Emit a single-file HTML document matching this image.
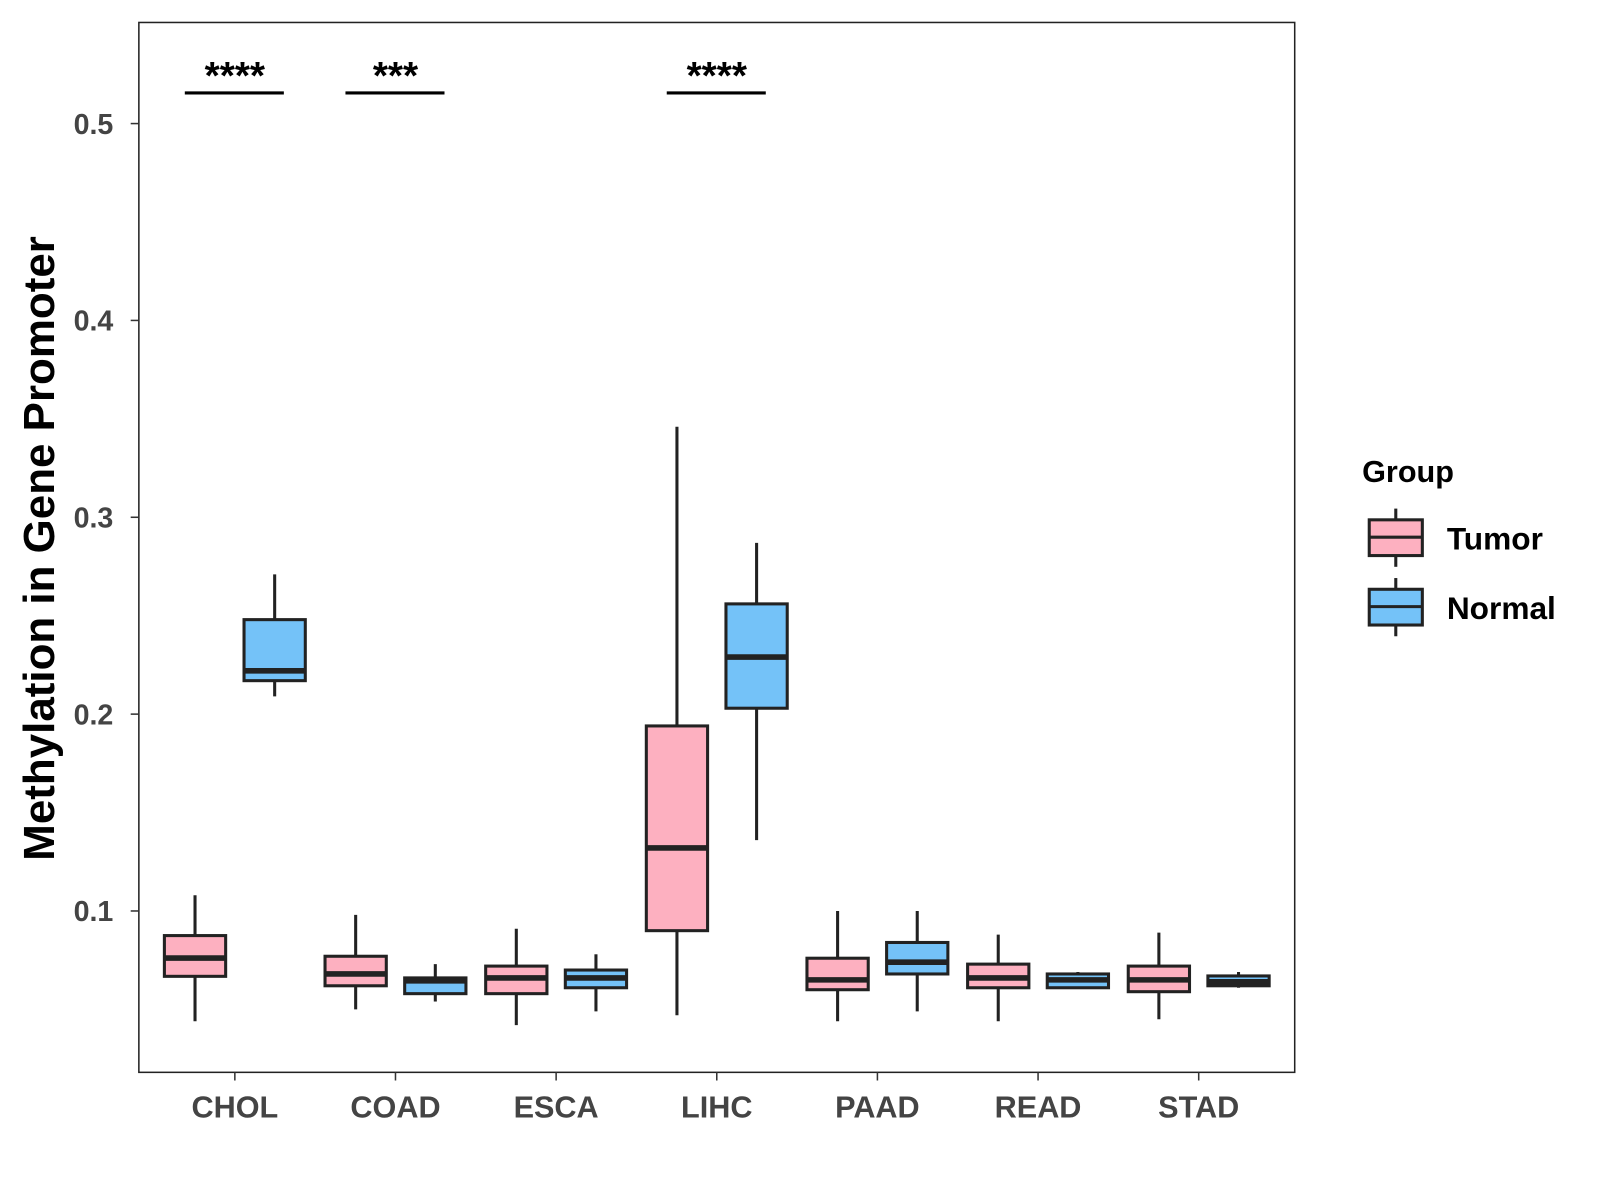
<!DOCTYPE html>
<html><head><meta charset="utf-8"><style>
html,body{margin:0;padding:0;background:#fff}
svg{display:block;font-family:"Liberation Sans",Arial,sans-serif}
</style></head><body>
<svg id="chart" width="1600" height="1200" viewBox="0 0 1567 1175" preserveAspectRatio="none" xmlns="http://www.w3.org/2000/svg">
<rect x="0" y="0" width="1567" height="1175" fill="#fff"/>
<g id="marks"></g>
<rect x="136" y="22" width="1132" height="1028" fill="none" stroke="#222" stroke-width="1.5"/>
<g id="axes"></g>
<text transform="translate(53,537) rotate(-90)" text-anchor="middle" font-size="43" font-weight="bold" fill="#000">Methylation in Gene Promoter</text>
<g>
<text x="1334" y="472" font-size="30" font-weight="bold">Group</text>
<g>
<line x1="1367" y1="498" x2="1367" y2="555" stroke="#222" stroke-width="3"/>
<rect x="1341" y="509" width="52" height="35" fill="#FDB0C0" stroke="#222" stroke-width="3"/>
<line x1="1341" y1="526" x2="1393" y2="526" stroke="#222" stroke-width="3"/>
<text x="1417" y="538" font-size="31" font-weight="bold">Tumor</text>
</g>
<g>
<line x1="1367" y1="566" x2="1367" y2="623" stroke="#222" stroke-width="3"/>
<rect x="1341" y="577" width="52" height="35" fill="#74C2F8" stroke="#222" stroke-width="3"/>
<line x1="1341" y1="594" x2="1393" y2="594" stroke="#222" stroke-width="3"/>
<text x="1417" y="606" font-size="31" font-weight="bold">Normal</text>
</g>
</g>
</svg>
<script>
const categories=["CHOL","COAD","ESCA","LIHC","PAAD","READ","STAD"];
const tumorLo=[0.044,0.050,0.042,0.047,0.044,0.044,0.045];
const tumorQ1=[0.0668,0.062,0.058,0.090,0.060,0.061,0.059];
const tumorMed=[0.0761,0.068,0.066,0.132,0.065,0.066,0.065];
const tumorQ3=[0.0875,0.077,0.072,0.194,0.076,0.073,0.072];
const tumorHi=[0.108,0.098,0.091,0.346,0.100,0.088,0.089];
const normalLo=[0.209,0.054,0.049,0.136,0.049,0.061,0.061];
const normalQ1=[0.217,0.058,0.061,0.203,0.068,0.061,0.062];
const normalMed=[0.222,0.0645,0.066,0.229,0.074,0.065,0.064];
const normalQ3=[0.248,0.066,0.070,0.256,0.084,0.068,0.067];
const normalHi=[0.271,0.073,0.078,0.287,0.100,0.069,0.069];
const yTicks=[0.1,0.2,0.3,0.4,0.5];
const sigLabels=["****","***","","****","","",""];

const NS="http://www.w3.org/2000/svg";
function yS(v){return 892-(v-0.1)*1927.5;}
function xS(i){return 230+i*157.33;}
function mk(tag,attrs,parent){const e=document.createElementNS(NS,tag);for(const k in attrs)e.setAttribute(k,attrs[k]);parent.appendChild(e);return e;}
const marks=document.getElementById('marks');
const axes=document.getElementById('axes');

function drawBox(cx,lo,q1,med,q3,hi,fill,name){
  const g=mk('g',{},marks);
  
  
  mk('line',{x1:cx,x2:cx,y1:yS(lo),y2:yS(hi),stroke:'#222','stroke-width':3},g);
  mk('rect',{x:cx-30,y:yS(q3),width:60,height:yS(q1)-yS(q3),fill:fill,stroke:'#222','stroke-width':3},g);
  mk('line',{x1:cx-30,x2:cx+30,y1:yS(med),y2:yS(med),stroke:'#222','stroke-width':5.5},g);
}
categories.forEach((c,i)=>{
  const cx=xS(i);
  drawBox(cx-39,tumorLo[i],tumorQ1[i],tumorMed[i],tumorQ3[i],tumorHi[i],'#FDB0C0','box-tumor-'+c.toLowerCase());
  drawBox(cx+39,normalLo[i],normalQ1[i],normalMed[i],normalQ3[i],normalHi[i],'#74C2F8','box-normal-'+c.toLowerCase());
  if(sigLabels[i]){
    const g=mk('g',{},marks);
    
    
    mk('line',{x1:cx-49,x2:cx+48,y1:91,y2:91,stroke:'#000','stroke-width':3},g);
    const t=mk('text',{x:cx,y:87,'text-anchor':'middle','font-size':38,'font-weight':'bold'},g);
    t.textContent=sigLabels[i];
  }
  const tk=mk('line',{x1:cx,x2:cx,y1:1050,y2:1058,stroke:'#333','stroke-width':1.5},axes);
  
  
  const lb=mk('text',{x:cx,y:1094,'text-anchor':'middle','font-size':30,'font-weight':'bold',fill:'#444'},axes);
  
  
  lb.textContent=c;
});
yTicks.forEach(v=>{
  const y=yS(v);
  const tk=mk('line',{x1:128,x2:136,y1:y,y2:y,stroke:'#333','stroke-width':1.5},axes);
  
  
  const lb=mk('text',{x:111,y:y+10,'text-anchor':'end','font-size':28,'font-weight':'bold',fill:'#444'},axes);
  
  
  lb.textContent=v.toFixed(1);
});
</script>
</body></html>
